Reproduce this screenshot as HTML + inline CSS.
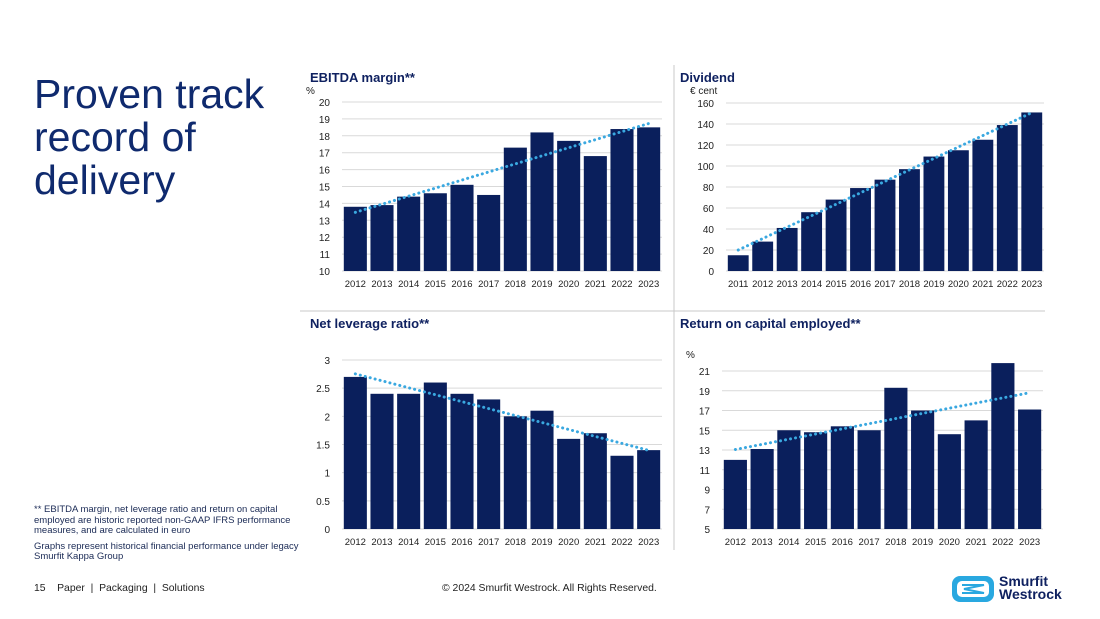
<!DOCTYPE html>
<html><head><meta charset="utf-8"><style>
body{margin:0;width:1100px;height:619px;background:#fff;font-family:"Liberation Sans",sans-serif;overflow:hidden;position:relative}
.t{position:absolute;color:#0f2160}
</style></head><body>
<div class="t" style="left:34px;top:73px;font-size:41px;line-height:43px;color:#0f2a6e">Proven track<br>record of<br>delivery</div>
<div class="t" style="left:34px;top:505px;font-size:9.5px;line-height:10.5px;width:265px;color:#1a2a55">** EBITDA margin, net leverage ratio and return on capital employed are historic reported non-GAAP IFRS performance measures, and are calculated in euro<div style="margin-top:5px">Graphs represent historical financial performance under legacy Smurfit Kappa Group</div></div>
<div class="t" style="left:34px;top:583px;font-size:10.4px;color:#222">15 &nbsp;&nbsp; Paper &nbsp;|&nbsp; Packaging &nbsp;|&nbsp; Solutions</div>
<div class="t" style="left:442px;top:583px;font-size:10.4px;color:#222">© 2024 Smurfit Westrock. All Rights Reserved.</div>
<div style="position:absolute;left:952px;top:576px;width:42px;height:26px;border-radius:8px;background:#29a8e0"><svg width="42" height="26"><rect x="5" y="5" width="32" height="16" rx="5" fill="#fff"/><path d="M10 9 L32 9 L12 13 L32 17 L10 17" stroke="#29a8e0" stroke-width="2" fill="none"/></svg></div>
<div class="t" style="left:999px;top:575px;font-size:14px;line-height:13px;font-weight:bold;color:#0f2160">Smurfit<br>Westrock</div>
<svg id="s" width="1100" height="619" style="position:absolute;left:0;top:0">
<line x1="674" y1="65" x2="674" y2="550" stroke="#c8c8c8"/>
<line x1="300" y1="311" x2="1045" y2="311" stroke="#c8c8c8"/>
</svg>
<script>
const ebitdaYears=["2012","2013","2014","2015","2016","2017","2018","2019","2020","2021","2022","2023"];
const ebitdaValues=[13.8,13.9,14.4,14.6,15.1,14.5,17.3,18.2,17.7,16.8,18.4,18.5];
const ebitdaTicks=[10,11,12,13,14,15,16,17,18,19,20];
const dividendYears=["2011","2012","2013","2014","2015","2016","2017","2018","2019","2020","2021","2022","2023"];
const dividendValues=[15,28,41,56,68,79,87,97,109,115,125,139,151];
const dividendTicks=[0,20,40,60,80,100,120,140,160];
const leverageYears=["2012","2013","2014","2015","2016","2017","2018","2019","2020","2021","2022","2023"];
const leverageValues=[2.7,2.4,2.4,2.6,2.4,2.3,2.0,2.1,1.6,1.7,1.3,1.4];
const leverageTicks=[0,0.5,1,1.5,2,2.5,3];
const roceYears=["2012","2013","2014","2015","2016","2017","2018","2019","2020","2021","2022","2023"];
const roceValues=[12,13.1,15,14.8,15.4,15,19.3,17,14.6,16,21.8,17.1];
const roceTicks=[5,7,9,11,13,15,17,19,21];
const NS="http://www.w3.org/2000/svg",svg=document.getElementById('s');
function mk(tag,at,txt){const e=document.createElementNS(NS,tag);for(const k in at)e.setAttribute(k,at[k]);if(txt!=null)e.textContent=txt;svg.appendChild(e);return e;}
function chart(key,title,unit,cats,vals,ticks,L,R,T,B,titleX,titleY,unitY){
  const mn=ticks[0],mx=ticks[ticks.length-1];
  const y=v=>B-(v-mn)/(mx-mn)*(B-T);
  const band=(R-L)/cats.length,x=i=>L+band*i;
  let e=mk('text',{x:titleX,y:titleY,'font-size':13,'font-weight':'bold',fill:'#0f2160'},title);
  
  if(unit){e=mk('text',{x:L-36,y:unitY,'font-size':10,fill:'#222'},unit);}
  ticks.forEach(t=>{const l=mk('line',{x1:L,x2:R,y1:y(t),y2:y(t),stroke:'#d9d9d9'});
    const tx=mk('text',{x:L-12,y:y(t)+4,'font-size':10,'text-anchor':'end',fill:'#222'},String(t));});
  vals.forEach((v,i)=>{const r=mk('rect',{x:x(i)+1.8,y:y(v),width:band-3.6,height:B-y(v),fill:'#0a1f5c'});
    const tx=mk('text',{x:x(i)+band/2,y:B+16,'font-size':9.5,'text-anchor':'middle',fill:'#222'},cats[i]);});
  const n=vals.length;let sx=0,sy=0,sxy=0,sxx=0;vals.forEach((v,i)=>{sx+=i;sy+=v;sxy+=i*v;sxx+=i*i;});
  const b=(n*sxy-sx*sy)/(n*sxx-sx*sx),a=(sy-b*sx)/n;
  const tl=mk('line',{x1:x(0)+band/2,y1:y(a),x2:x(n-1)+band/2,y2:y(a+b*(n-1)),stroke:'#3aa8e0','stroke-width':3,'stroke-dasharray':'0.1 5','stroke-linecap':'round'});
  
}
chart('ebitda','EBITDA margin**','%',ebitdaYears,ebitdaValues,ebitdaTicks,342,662,102,271,310,82,94);
chart('dividend','Dividend','€ cent',dividendYears,dividendValues,dividendTicks,726,1044,103,271,680,82,94);
chart('leverage','Net leverage ratio**',null,leverageYears,leverageValues,leverageTicks,342,662,360,529,310,328,0);
chart('roce','Return on capital employed**','%',roceYears,roceValues,roceTicks,722,1043,371,529,680,328,358);
</script>
</body></html>
